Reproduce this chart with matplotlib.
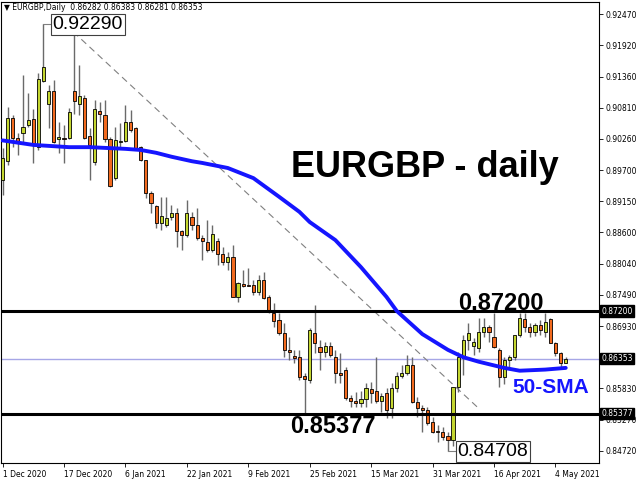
import matplotlib
matplotlib.use("Agg")
import matplotlib.pyplot as plt
import matplotlib.transforms as mtransforms

# daily candles, 1 Dec 2020 .. 6 May 2021 (bar index = position)
opens = [0.8953, 0.8986, 0.9063, 0.9027, 0.9036, 0.9050, 0.9061, 0.9011, 0.9129, 0.9088,
         0.9111, 0.9026, 0.9027, 0.9027, 0.9111, 0.9088, 0.9098, 0.9031, 0.8985, 0.9075,
         0.9068, 0.9026, 0.8956, 0.9020, 0.9022, 0.9056, 0.9045, 0.9011, 0.8988, 0.8930,
         0.8907, 0.8876, 0.8873, 0.8887, 0.8894, 0.8862, 0.8855, 0.8887, 0.8873, 0.8850,
         0.8843, 0.8828, 0.8844, 0.8821, 0.8807, 0.8816, 0.8745, 0.8768, 0.8766, 0.8766,
         0.8754, 0.8775, 0.8745, 0.8717, 0.8704, 0.8681, 0.8651, 0.8640, 0.8639, 0.8605,
         0.8598, 0.8681, 0.8656, 0.8647, 0.8658, 0.8638, 0.8610, 0.8615, 0.8566, 0.8560,
         0.8557, 0.8564, 0.8582, 0.8578, 0.8560, 0.8574, 0.8548, 0.8583, 0.8605, 0.8610,
         0.8624, 0.8558, 0.8548, 0.8544, 0.8523, 0.8507, 0.8505, 0.8498, 0.8491, 0.8585,
         0.8637, 0.8669, 0.8658, 0.8654, 0.8683, 0.8692, 0.8674, 0.8651, 0.8603, 0.8633,
         0.8638, 0.8677, 0.8706, 0.8692, 0.8683, 0.8695, 0.8683, 0.8706, 0.8663, 0.8645,
         0.86282]
highs = [0.9010, 0.9082, 0.9068, 0.9036, 0.9139, 0.9107, 0.9079, 0.9143, 0.9229, 0.9121,
         0.9130, 0.9056, 0.9050, 0.9081, 0.9229, 0.9157, 0.9104, 0.9045, 0.9095, 0.9091,
         0.9095, 0.9029, 0.9047, 0.9054, 0.9086, 0.9077, 0.9047, 0.9013, 0.8988, 0.8933,
         0.8908, 0.8923, 0.8923, 0.8908, 0.8903, 0.8864, 0.8917, 0.8896, 0.8903, 0.8855,
         0.8882, 0.8873, 0.8850, 0.8834, 0.8825, 0.8837, 0.8772, 0.8793, 0.8796, 0.8775,
         0.8784, 0.8789, 0.8749, 0.8734, 0.8717, 0.8699, 0.8674, 0.8651, 0.8651, 0.8610,
         0.8690, 0.8731, 0.8669, 0.8665, 0.8665, 0.8651, 0.8645, 0.8621, 0.8571, 0.8576,
         0.8578, 0.8592, 0.8594, 0.8638, 0.8574, 0.8583, 0.8592, 0.8612, 0.8624, 0.8642,
         0.8638, 0.8567, 0.8553, 0.8550, 0.8532, 0.8518, 0.8514, 0.8505, 0.8585, 0.8647,
         0.8677, 0.8699, 0.8672, 0.8708, 0.8708, 0.8695, 0.8717, 0.8654, 0.8638, 0.8642,
         0.8677, 0.8717, 0.8717, 0.8699, 0.8699, 0.8704, 0.8717, 0.8708, 0.8665, 0.8647,
         0.86383]
lows = [0.8926, 0.8979, 0.9011, 0.8997, 0.9020, 0.9047, 0.8983, 0.9006, 0.9127, 0.9045,
        0.9018, 0.9001, 0.8983, 0.9026, 0.9070, 0.9068, 0.9026, 0.8953, 0.8979, 0.9056,
        0.9020, 0.8940, 0.8953, 0.9011, 0.9020, 0.9038, 0.9006, 0.8986, 0.8921, 0.8894,
        0.8867, 0.8864, 0.8869, 0.8882, 0.8834, 0.8828, 0.8851, 0.8864, 0.8846, 0.8811,
        0.8825, 0.8825, 0.8802, 0.8802, 0.8793, 0.8745, 0.8736, 0.8763, 0.8765, 0.8749,
        0.8749, 0.8741, 0.8717, 0.8692, 0.8677, 0.8638, 0.8633, 0.8628, 0.8598, 0.85377,
        0.8592, 0.8645, 0.8615, 0.8638, 0.8638, 0.8592, 0.8592, 0.8562, 0.8550, 0.8550,
        0.8550, 0.8550, 0.8557, 0.8557, 0.8541, 0.8530, 0.8530, 0.8576, 0.8601, 0.8606,
        0.8557, 0.8532, 0.8505, 0.8518, 0.8503, 0.8487, 0.8491, 0.84708, 0.8480, 0.8576,
        0.8606, 0.8651, 0.8642, 0.8647, 0.8674, 0.8665, 0.8654, 0.8585, 0.8590, 0.8621,
        0.8633, 0.8674, 0.8683, 0.8674, 0.8676, 0.8677, 0.8674, 0.8663, 0.8640, 0.8619,
        0.86281]
closes = [0.8992, 0.9063, 0.9027, 0.9018, 0.9047, 0.9059, 0.9015, 0.9132, 0.9153, 0.9111,
          0.9020, 0.9029, 0.9026, 0.9074, 0.9093, 0.9102, 0.9027, 0.9015, 0.9079, 0.9070,
          0.9026, 0.8942, 0.9024, 0.9022, 0.9056, 0.9041, 0.9010, 0.8988, 0.8930, 0.8912,
          0.8876, 0.8889, 0.8885, 0.8894, 0.8862, 0.8855, 0.8894, 0.8873, 0.8850, 0.8844,
          0.8828, 0.8857, 0.8821, 0.8807, 0.8816, 0.8745, 0.8770, 0.8765, 0.8765, 0.8754,
          0.8775, 0.8743, 0.8722, 0.8702, 0.8681, 0.8651, 0.8647, 0.8637, 0.8603, 0.8599,
          0.8686, 0.8663, 0.8647, 0.8658, 0.8642, 0.8610, 0.8606, 0.8566, 0.8560, 0.8557,
          0.8564, 0.8583, 0.8574, 0.8560, 0.8569, 0.8544, 0.8583, 0.8605, 0.8610, 0.8624,
          0.8558, 0.8548, 0.8544, 0.8521, 0.8505, 0.8505, 0.8496, 0.8491, 0.8585, 0.8638,
          0.8669, 0.8681, 0.8665, 0.8683, 0.8692, 0.8683, 0.8656, 0.8603, 0.8633, 0.8638,
          0.8677, 0.8708, 0.8692, 0.8683, 0.8695, 0.8686, 0.8701, 0.8663, 0.8645, 0.8628,
          0.86353]

# 50-day SMA
sma_bar = [0, 6, 13, 17, 24, 27, 30, 33, 37, 39, 44, 49, 54, 58, 60, 65, 70, 75, 77,
           82, 87, 90, 93, 98, 101, 106, 110]
sma_val = [0.9023, 0.9015, 0.9011, 0.9011, 0.9008, 0.9006, 0.9001, 0.8994, 0.8986, 0.8983,
           0.8974, 0.8956, 0.8923, 0.8896, 0.8878, 0.8846, 0.8798, 0.8745, 0.8720,
           0.8679, 0.8651, 0.8638, 0.8630, 0.8619, 0.8614, 0.8616, 0.8619]

# dashed trendline from the December top
trend_bar = [13.8, 92.9]
trend_val = [0.9216, 0.8548]

resistance = 0.87200
support = 0.85377
bid = 0.86353
top_price = 0.92290
bottom_price = 0.84708

date_pos = [0, 12, 24, 36, 48, 60, 72, 84, 96, 108]
date_labels = ['1 Dec 2020', '17 Dec 2020', '6 Jan 2021', '22 Jan 2021', '9 Feb 2021',
               '25 Feb 2021', '15 Mar 2021', '31 Mar 2021', '16 Apr 2021', '4 May 2021']
price_ticks = [0.92470, 0.91920, 0.91360, 0.90810, 0.90260, 0.89700, 0.89150, 0.88600,
               0.88040, 0.87490, 0.86930, 0.85830, 0.85270, 0.84720]

bull = '#c4d630'
bear = '#f26a1e'

fig = plt.figure(figsize=(6.4, 4.8), dpi=100)
ax = fig.add_axes([1 / 640, 1 - 463 / 480, 598 / 640, 461 / 480])
ax.set_xlim(-0.3, 116.5)
ax.set_ylim(0.84501, 0.92688)

# candles
x = list(range(len(opens)))
ax.vlines(x, lows, highs, color='#6a6a6a', lw=1, zorder=2)
for i in x:
    o, c = opens[i], closes[i]
    col = bull if c >= o else bear
    ax.bar(i, max(abs(c - o), 0.00003), bottom=min(o, c), width=0.62,
           color=col, edgecolor='black', linewidth=0.6, zorder=3)

# levels
ax.axhline(resistance, color='black', lw=2.2, zorder=4)
ax.axhline(support, color='black', lw=2.2, zorder=4)
ax.axhline(bid, color='#a6a6e6', lw=1, zorder=1)

ax.plot(trend_bar, trend_val, color='#808080', lw=0.8, ls=(0, (6, 4)), zorder=1)
ax.plot(sma_bar, sma_val, color='#1515ff', lw=2.8, zorder=5, solid_capstyle='round')

# callouts
ax.plot([8, 9.7], [top_price, top_price], color='#808080', lw=0.8, zorder=2)
ax.text(9.8, top_price, '0.92290', family='Liberation Sans', fontsize=14,
        ha='left', va='center', zorder=6,
        bbox=dict(boxstyle='square,pad=0.1', fc='white', ec='#404040', lw=0.8))
ax.plot([87, 88.8], [bottom_price, bottom_price], color='#808080', lw=0.8, zorder=2)
ax.text(88.9, bottom_price, '0.84708', family='Liberation Sans', fontsize=14,
        ha='left', va='center', zorder=6,
        bbox=dict(boxstyle='square,pad=0.1', fc='white', ec='#404040', lw=0.8))

ax.text(82.5, 0.8958, 'EURGBP - daily', family='Liberation Sans', weight='bold',
        fontsize=26, ha='center', va='baseline', zorder=6)
ax.text(89, 0.8722, '0.87200', family='Liberation Sans', weight='bold',
        fontsize=17, ha='left', va='baseline', zorder=6)
ax.text(56.2, 0.8503, '0.85377', family='Liberation Sans', weight='bold',
        fontsize=17, ha='left', va='baseline', zorder=6)
ax.text(99.5, 0.8574, '50-SMA', family='Liberation Sans', weight='bold',
        fontsize=15, color='#1515ff', ha='left', va='baseline', zorder=6)

# axes look
for s in ax.spines.values():
    s.set_linewidth(0.8)
ax.yaxis.tick_right()
ax.set_yticks(price_ticks)
ax.set_yticklabels(['%.5f' % p for p in price_ticks])
ax.tick_params(axis='y', length=3, width=0.6, pad=2, labelsize=5.5)
ax.set_xticks(date_pos)
ax.set_xticklabels(date_labels, ha='left')
ax.tick_params(axis='x', length=3, width=0.6, pad=2, labelsize=5.5)

trans = mtransforms.blended_transform_factory(ax.transAxes, ax.transData)
for lvl in [resistance, bid, support]:
    ax.text(1.004, lvl, '%.5f' % lvl, transform=trans, fontsize=5.5, color='white',
            ha='left', va='center', zorder=10, clip_on=False,
            bbox=dict(boxstyle='square,pad=0.15', fc='black', ec='black'))

fig.text(4 / 640, 1 - 7 / 480, '\u25bc EURGBP,Daily  0.86282 0.86383 0.86281 0.86353',
         fontsize=5.5, ha='left', va='center')

fig.savefig('out.png', dpi=100)
